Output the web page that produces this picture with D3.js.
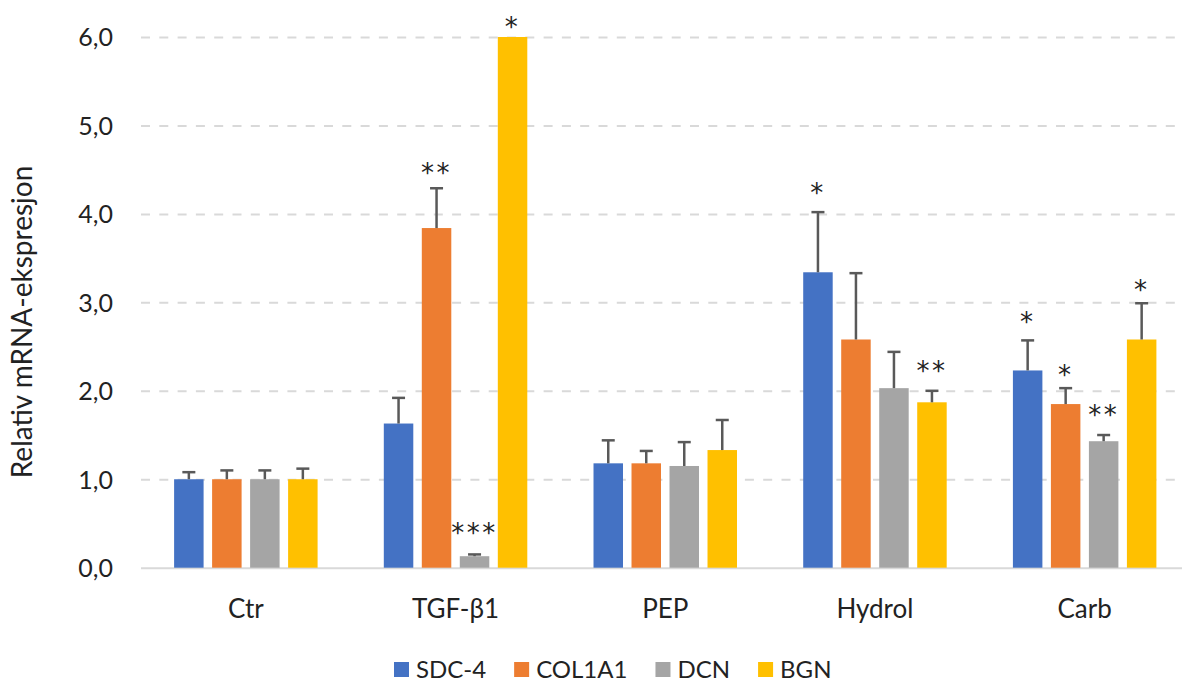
<!DOCTYPE html>
<html>
<head>
<meta charset="utf-8">
<script src="https://cdn.jsdelivr.net/npm/d3@7"></script>
<style>
  html, body { margin: 0; padding: 0; background: #fff; }
  svg { display: block; }
  text { font-family: Lato, "Open Sans", sans-serif; fill: #222; }
</style>
</head>
<body>
<svg id="chart" width="1182" height="682"></svg>
<script>
// ---- data ----
const categories = ["Ctr", "TGF-β1", "PEP", "Hydrol", "Carb"];
const seriesNames = ["SDC-4", "COL1A1", "DCN", "BGN"];
const seriesColors = ["#4472C4", "#ED7D31", "#A5A5A5", "#FFC000"];

const sdc4     = [1.00, 1.63, 1.18, 3.34, 2.23];
const sdc4Err  = [0.08, 0.29, 0.26, 0.68, 0.34];
const col1a1    = [1.00, 3.84, 1.18, 2.58, 1.85];
const col1a1Err = [0.10, 0.45, 0.14, 0.75, 0.18];
const dcn      = [1.00, 0.13, 1.15, 2.03, 1.43];
const dcnErr   = [0.10, 0.02, 0.27, 0.41, 0.07];
const bgn      = [1.00, 6.00, 1.33, 1.87, 2.58];
const bgnErr   = [0.12, 0.00, 0.34, 0.13, 0.41];

const yTicks = [0, 1, 2, 3, 4, 5, 6];

// significance annotations (category, series, label, vertical position in axis units)
const starCats   = ["TGF-β1", "TGF-β1", "TGF-β1", "Hydrol", "Hydrol", "Carb", "Carb", "Carb", "Carb"];
const starSeries = ["COL1A1", "DCN", "BGN", "SDC-4", "BGN", "SDC-4", "COL1A1", "DCN", "BGN"];
const starLabels = ["**", "***", "*", "*", "**", "*", "*", "**", "*"];
const starPos    = [4.53, 0.46, 6.18, 4.30, 2.29, 2.84, 2.24, 1.79, 3.20];

const yTitle = "Relativ mRNA-ekspresjon";

// ---- build ----
const values = [sdc4, col1a1, dcn, bgn];
const errors = [sdc4Err, col1a1Err, dcnErr, bgnErr];
const rows = [];
seriesNames.forEach((s, si) => {
  categories.forEach((c, ci) => {
    rows.push({ cat: c, series: s, color: seriesColors[si], v: values[si][ci], e: errors[si][ci] });
  });
});

const svg = d3.select("#chart");
const plotLeft = 141, plotRight = 1189.5, plotTop = 37, plotBottom = 567.7;

const y = d3.scaleLinear().domain([0, 6]).range([plotBottom, plotTop]);
const x0 = d3.scaleBand().domain(categories).range([plotLeft, plotRight]).paddingInner(0).paddingOuter(0);
const x1 = d3.scaleBand().domain(seriesNames).range([-76, 76]).paddingInner(0.224).paddingOuter(0.112);
const barX = d => x0(d.cat) + x0.bandwidth() / 2 + x1(d.series);
const barC = d => barX(d) + x1.bandwidth() / 2;

const loc = d3.formatLocale({ decimal: ",", thousands: " ", grouping: [3], currency: ["", ""] });
const fmt = loc.format(".1f");

// gridlines + y tick labels
const yAxis = d3.axisLeft(y).tickValues(yTicks).tickFormat(fmt).tickSize(0).tickPadding(0);
const gy = svg.append("g").attr("transform", `translate(${plotLeft},0)`).call(yAxis);
gy.select(".domain").remove();
gy.selectAll(".tick text")
  .attr("x", -28)
  .attr("dy", "0.35em")
  .style("font-size", "25px")
  .style("font-family", "Lato, sans-serif")
  .attr("fill", "#222");
gy.selectAll(".tick").append("line")
  .attr("x1", 0).attr("x2", 1182 - plotLeft)
  .attr("stroke", "#D9D9D9")
  .attr("stroke-width", 2)
  .attr("stroke-dasharray", d => d === 0 ? null : "9,9.3");

// bars
svg.append("g").selectAll("rect").data(rows).join("rect")
  .attr("x", barX)
  .attr("y", d => y(d.v))
  .attr("width", x1.bandwidth())
  .attr("height", d => y(0) - y(d.v))
  .attr("fill", d => d.color);

// error bars
const eg = svg.append("g").attr("stroke", "#595959").attr("stroke-width", 2.5);
const withErr = rows.filter(d => d.e > 0);
eg.selectAll("line.v").data(withErr).join("line").attr("class", "v")
  .attr("x1", barC).attr("x2", barC)
  .attr("y1", d => y(d.v)).attr("y2", d => y(d.v + d.e));
eg.selectAll("line.c").data(withErr).join("line").attr("class", "c")
  .attr("x1", d => barC(d) - 6.5).attr("x2", d => barC(d) + 6.5)
  .attr("y1", d => y(d.v + d.e)).attr("y2", d => y(d.v + d.e));

// stars
const stars = starLabels.map((l, i) => ({ cat: starCats[i], series: starSeries[i], label: l, p: starPos[i] }));
svg.append("g").selectAll("text").data(stars).join("text")
  .attr("x", barC)
  .attr("y", d => y(d.p))
  .attr("dy", "0.56em")
  .attr("text-anchor", "middle")
  .style("font-family", "'DejaVu Sans', sans-serif")
  .style("font-size", "26px")
  .style("letter-spacing", "2.5px")
  .text(d => d.label);

// category labels
const xAxis = d3.axisBottom(x0).tickSize(0).tickPadding(0);
const gx = svg.append("g").attr("transform", `translate(0,${plotBottom})`).call(xAxis);
gx.select(".domain").remove();
gx.selectAll(".tick text")
  .attr("y", 50)
  .attr("dy", 0)
  .style("font-size", "26px")
  .style("font-family", "Lato, sans-serif")
  .attr("fill", "#222");

// y title
svg.append("text")
  .attr("transform", `translate(32,322) rotate(-90)`)
  .attr("text-anchor", "middle")
  .style("font-size", "28px")
  .text(yTitle);

// legend
const lg = svg.append("g").attr("transform", "translate(394,0)");
let lx = 0;
seriesNames.forEach((s, i) => {
  lg.append("rect").attr("x", lx).attr("y", 662).attr("width", 15).attr("height", 15).attr("fill", seriesColors[i]);
  const t = lg.append("text").attr("x", lx + 22).attr("y", 678).style("font-size", "24px").text(s);
  lx += 22 + t.node().getComputedTextLength() + 28;
});
</script>
</body>
</html>
